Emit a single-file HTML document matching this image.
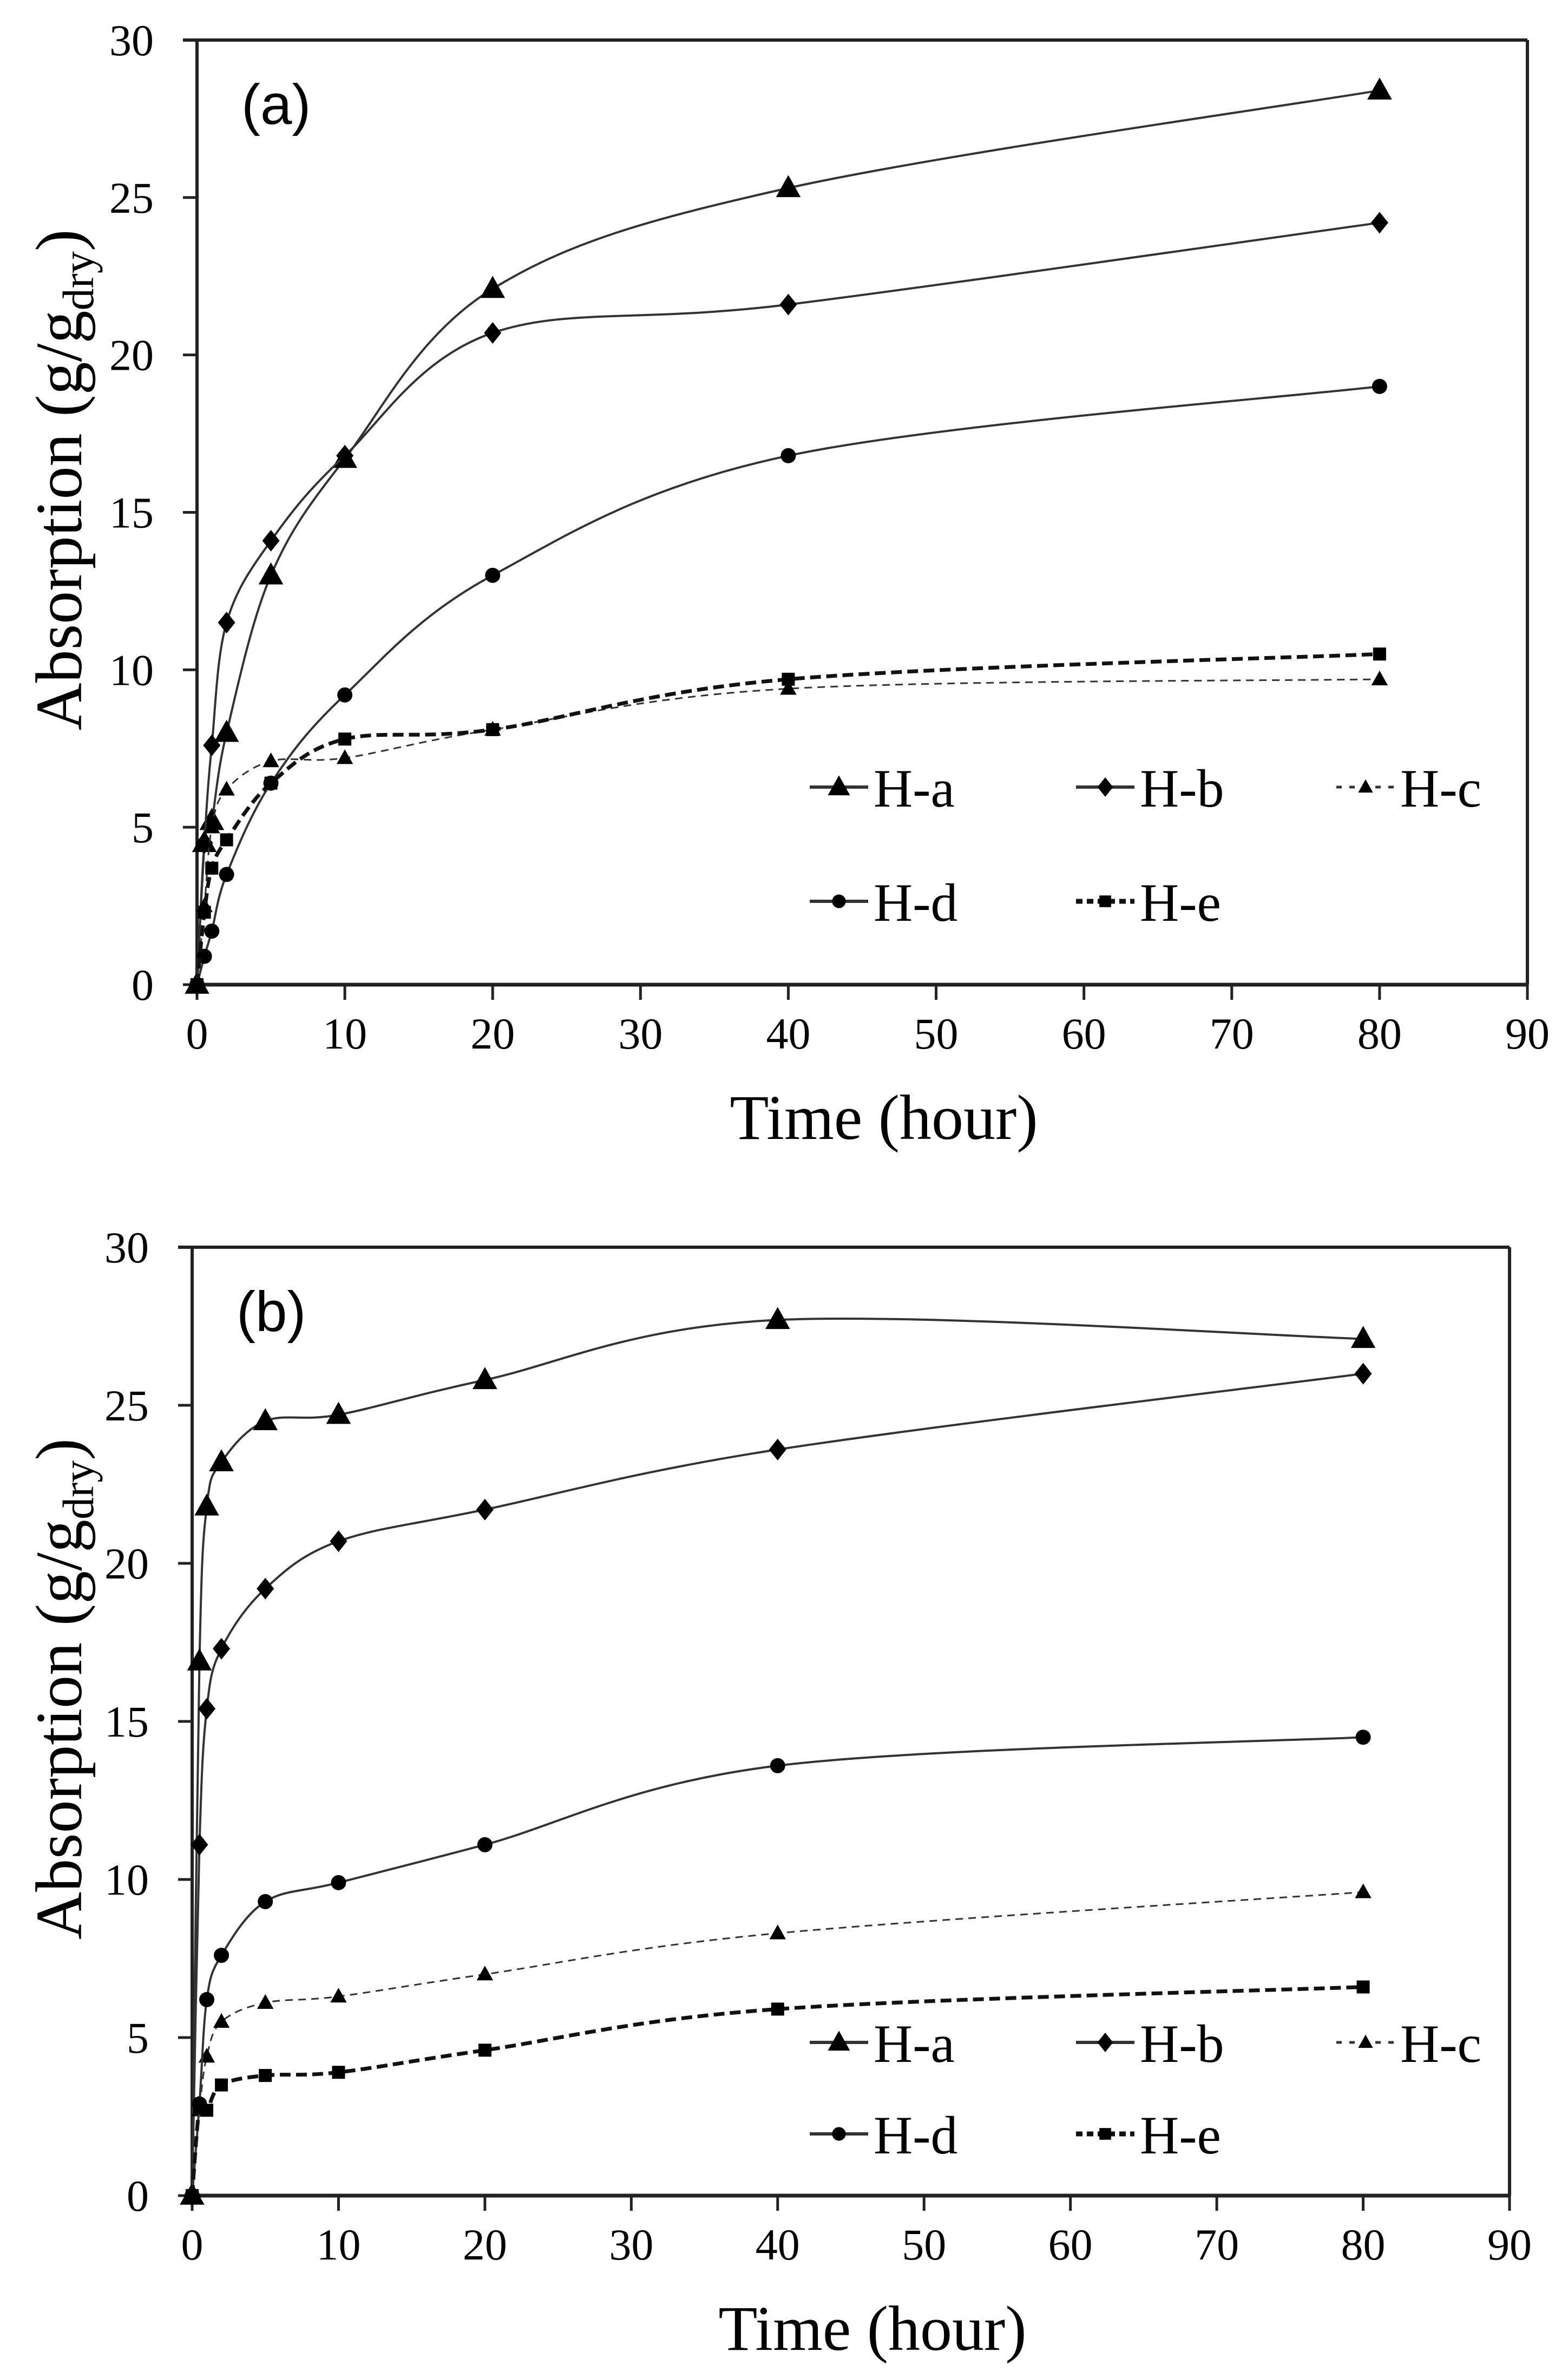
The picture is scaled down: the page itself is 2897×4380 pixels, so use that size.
<!DOCTYPE html>
<html><head><meta charset="utf-8"><style>
html,body{margin:0;padding:0;background:#fff;}
svg{display:block;font-family:"Liberation Serif",serif;}
</style></head><body>
<svg id="fig" width="2897" height="4380" viewBox="0 0 2897 4380" xmlns="http://www.w3.org/2000/svg" font-family="Liberation Serif, serif"></svg>
<script>
const times = [0, 0.5, 1, 2, 5, 10, 20, 40, 80];
const seriesNames = ["H-a","H-b","H-c","H-d","H-e"];
const aHa = [0, 4.5, 5.2, 8.0, 13.0, 16.7, 22.1, 25.3, 28.4];
const aHb = [0, 4.5, 7.6, 11.5, 14.1, 16.8, 20.7, 21.6, 24.2];
const aHc = [0, 2.5, 5.0, 6.2, 7.1, 7.2, 8.1, 9.4, 9.7];
const aHd = [0, 0.9, 1.7, 3.5, 6.4, 9.2, 13.0, 16.8, 19.0];
const aHe = [0, 2.3, 3.7, 4.6, 6.4, 7.8, 8.1, 9.7, 10.5];
const bHa = [0, 16.9, 21.8, 23.2, 24.5, 24.7, 25.8, 27.7, 27.1];
const bHb = [0, 11.1, 15.4, 17.3, 19.2, 20.7, 21.7, 23.6, 26.0];
const bHc = [0, 2.7, 4.4, 5.5, 6.1, 6.3, 7.0, 8.3, 9.6];
const bHd = [0, 2.9, 6.2, 7.6, 9.3, 9.9, 11.1, 13.6, 14.5];
const bHe = [0, 2.8, 2.7, 3.5, 3.8, 3.9, 4.6, 5.9, 6.6];
const xTicks = [0,10,20,30,40,50,60,70,80,90];
const yTicks = [0,5,10,15,20,25,30];

const NS="http://www.w3.org/2000/svg";
const svg=document.getElementById('fig');
function mk(tag,attrs,parent){const e=document.createElementNS(NS,tag);for(const k in attrs)e.setAttribute(k,attrs[k]);(parent||svg).appendChild(e);return e;}

const styles=[
 {marker:'tri',size:24,width:4,dash:null,color:'#333'},
 {marker:'dia',size:20,width:4,dash:null,color:'#333'},
 {marker:'tri',size:16,width:3,dash:'14 10',color:'#333'},
 {marker:'cir',size:14,width:4,dash:null,color:'#333'},
 {marker:'sq',size:12,width:7,dash:'20 10',color:'#111'}
];

function smoothPath(pts){
  let d=`M${pts[0][0]},${pts[0][1]}`;
  for(let i=0;i<pts.length-1;i++){
    const p0=pts[Math.max(0,i-1)],p1=pts[i],p2=pts[i+1],p3=pts[Math.min(pts.length-1,i+2)];
    const c1x=p1[0]+(p2[0]-p0[0])/6,c1y=p1[1]+(p2[1]-p0[1])/6;
    const c2x=p2[0]-(p3[0]-p1[0])/6,c2y=p2[1]-(p3[1]-p1[1])/6;
    d+=` C${c1x},${c1y} ${c2x},${c2y} ${p2[0]},${p2[1]}`;
  }
  return d;
}
function marker(g,type,x,y,s){
  let e;
  if(type==='tri')e=mk('polygon',{points:`${x},${y-s} ${x-s*0.95},${y+s*0.7} ${x+s*0.95},${y+s*0.7}`,fill:'#000'},g);
  else if(type==='dia')e=mk('polygon',{points:`${x},${y-s} ${x+s*0.8},${y} ${x},${y+s} ${x-s*0.8},${y}`,fill:'#000'},g);
  else if(type==='cir')e=mk('circle',{cx:x,cy:y,r:s,fill:'#000'},g);
  else e=mk('rect',{x:x-s,y:y-s,width:2*s,height:2*s,fill:'#000'},g);
  return e;
}

function panel(cfg){
  const {left,right,top,bottom,label,data,legendRows,pname}=cfg;
  const g=mk('g',{});
  
  
  const sx=v=>left+(v-0)/90*(right-left);
  const sy=v=>bottom-(v-0)/30*(bottom-top);
  mk('line',{x1:left-26,y1:top,x2:right,y2:top,stroke:'#222','stroke-width':6},g);
  mk('line',{x1:right,y1:top,x2:right,y2:bottom,stroke:'#222','stroke-width':6},g);
  const yax=mk('line',{x1:left,y1:top,x2:left,y2:bottom,stroke:'#222','stroke-width':6},g);
  
  const xax=mk('line',{x1:left,y1:bottom,x2:right,y2:bottom,stroke:'#222','stroke-width':7},g);
  
  xTicks.forEach(v=>{
    mk('line',{x1:sx(v),y1:bottom,x2:sx(v),y2:bottom+28,stroke:'#222','stroke-width':5},g);
    const t=mk('text',{x:sx(v),y:bottom+118,'font-size':82,'text-anchor':'middle','font-family':'Liberation Serif, serif'},g);
    t.textContent=v;
    
  });
  yTicks.forEach(v=>{
    mk('line',{x1:left-26,y1:sy(v),x2:left,y2:sy(v),stroke:'#222','stroke-width':5},g);
    const t=mk('text',{x:left-80,y:sy(v)+28,'font-size':82,'text-anchor':'end','font-family':'Liberation Serif, serif'},g);
    t.textContent=v;
    
  });
  const pl=mk('text',{x:left+82,y:top+155,'font-size':105,'font-family':'Liberation Sans, sans-serif'},g);
  pl.textContent=label;
  
  const xt=mk('text',{x:(left+right)/2+40,y:bottom+285,'font-size':118,'text-anchor':'middle','font-family':'Liberation Serif, serif'},g);
  xt.textContent='Time (hour)';
  
  const cy=(top+bottom)/2-60;
  const yt=mk('text',{transform:`translate(150,${cy}) rotate(-90)`,'font-size':122,'text-anchor':'middle','font-family':'Liberation Serif, serif'},g);
  
  yt.appendChild(document.createTextNode('Absorption (g/g'));
  const sub=mk('tspan',{'font-size':82,dy:22},yt);sub.textContent='dry';
  const cl=mk('tspan',{dy:-22},yt);cl.textContent=')';
  data.forEach((vals,i)=>{
    const st=styles[i];
    const sg=mk('g',{},g);
    
    
    const pts=times.map((t,j)=>[sx(t),sy(vals[j])]);
    const p=mk('path',{d:smoothPath(pts),fill:'none',stroke:st.color,'stroke-width':st.width},sg);
    if(st.dash)p.setAttribute('stroke-dasharray',st.dash);
    pts.forEach(pt=>{
      const m=marker(sg,st.marker,pt[0],pt[1],st.size);
      
      
    });
  });
  const lg=mk('g',{},g);
  
  const cols=[1496,1988,2469];
  seriesNames.forEach((n,i)=>{
    const r=Math.floor(i/3),c=i%3;
    const x=cols[c],y=legendRows[r];
    const eg=mk('g',{},lg);
    
    
    const st=styles[i];
    const ln=mk('line',{x1:x,y1:y,x2:x+108,y2:y,stroke:st.color,'stroke-width':st.width+2},eg);
    if(st.dash)ln.setAttribute('stroke-dasharray',i===2?'10 14':'12 8');
    marker(eg,st.marker,x+54,y,st.size*0.9);
    const t=mk('text',{x:x+118,y:y+36,'font-size':100,'font-family':'Liberation Serif, serif'},eg);
    t.textContent=n;
  });
}

panel({left:364,right:2822,top:74,bottom:1819,label:'(a)',pname:'panel-a',
  data:[aHa,aHb,aHc,aHd,aHe],legendRows:[1454,1665]});
panel({left:355,right:2789,top:2304,bottom:4056,label:'(b)',pname:'panel-b',
  data:[bHa,bHb,bHc,bHd,bHe],legendRows:[3773,3942]});
</script>
</body></html>
